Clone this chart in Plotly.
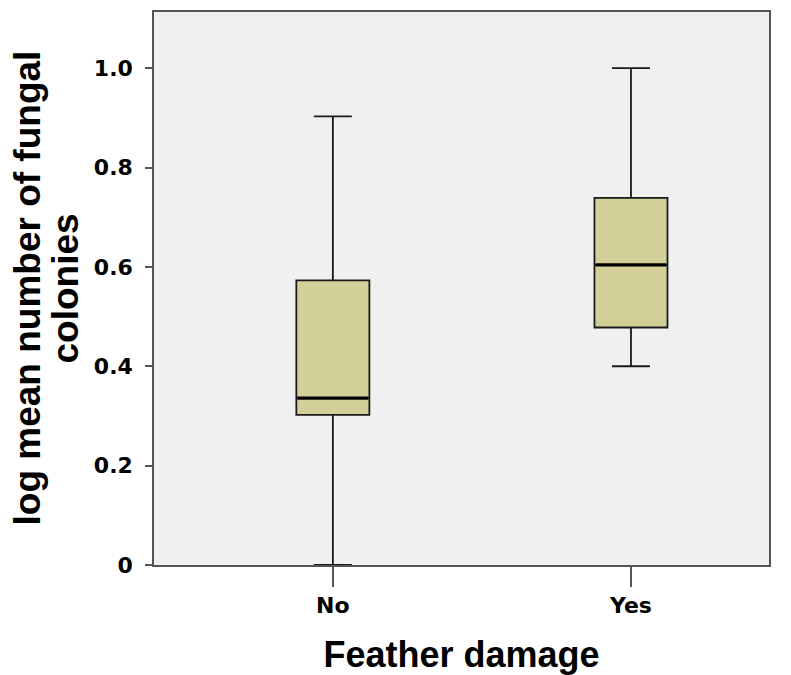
import plotly.graph_objects as go

# ── Data ──────────────────────────────────────────────────────────────────────
categories = ["No", "Yes"]
positions = [0, 1]
lower_fence = [0.0, 0.40]
q1 = [0.302, 0.478]
median = [0.336, 0.604]
q3 = [0.573, 0.739]
upper_fence = [0.903, 1.0]

y_ticks = [0, 0.2, 0.4, 0.6, 0.8, 1.0]
y_tick_text = ["0", "0.2", "0.4", "0.6", "0.8", "1.0"]

y_title_lines = ["log mean number of fungal", "colonies"]
x_title = "Feather damage"

BOX_W = 0.245
FILL = "#d3cf99"
AXIS = "#555555"
L, R, T, B = 154, 22, 12, 110
PLOT_W = 791 - L - R

fig = go.Figure()
fig.add_trace(go.Box(
    x=positions,
    q1=q1, median=median, q3=q3,
    lowerfence=lower_fence, upperfence=upper_fence,
    width=BOX_W,
    whiskerwidth=0.52,
    fillcolor=FILL,
    line=dict(color="#1a1a1a", width=1.8),
    boxpoints=False,
    hoverinfo="skip",
    showlegend=False,
))

# thicker median bars, as SPSS draws them
for p, m in zip(positions, median):
    fig.add_trace(go.Scatter(
        x=[p - BOX_W / 2 + 0.004, p + BOX_W / 2 - 0.004], y=[m, m],
        mode="lines",
        line=dict(color="black", width=3.2),
        hoverinfo="skip",
        showlegend=False,
    ))

# y title as two rotated lines (tighter spacing than plotly's <br>)
for txt, px in zip(y_title_lines, [27, 65]):
    fig.add_annotation(
        text=f"<b>{txt}</b>", textangle=-90,
        xref="paper", yref="paper",
        x=(px - L) / PLOT_W, y=0.5,
        xanchor="center", yanchor="middle",
        showarrow=False,
        font=dict(size=37, family="Liberation Sans", color="black"),
    )

fig.update_layout(
    width=791, height=675,
    paper_bgcolor="white",
    plot_bgcolor="#f0f0f0",
    margin=dict(l=L, r=R, t=T, b=B),
    font=dict(family="DejaVu Sans", color="black"),
    xaxis=dict(
        range=[-0.6, 1.463],
        tickvals=positions, ticktext=[f"<b>{c}</b>" for c in categories],
        ticks="outside", ticklen=20, tickwidth=1.5, tickcolor=AXIS,
        tickfont=dict(size=22, family="DejaVu Sans"),
        showline=True, linecolor=AXIS, linewidth=1.5, mirror=True,
        showgrid=False, zeroline=False, automargin=False,
        title=dict(text=f"<b>{x_title}</b>",
                   font=dict(size=36, family="Liberation Sans"), standoff=28),
    ),
    yaxis=dict(
        range=[0, 1.113],
        tickvals=y_ticks, ticktext=[f"<b>{t}</b>" for t in y_tick_text],
        ticks="outside", ticklen=7, tickwidth=1.5, tickcolor=AXIS,
        tickfont=dict(size=22, family="DejaVu Sans"),
        ticklabelstandoff=8,
        showline=True, linecolor=AXIS, linewidth=1.5, mirror=True,
        showgrid=False, zeroline=False, automargin=False,
    ),
)

fig.write_html("out.html", config={"displayModeBar": False},
               post_script="document.body.style.margin='0';")
